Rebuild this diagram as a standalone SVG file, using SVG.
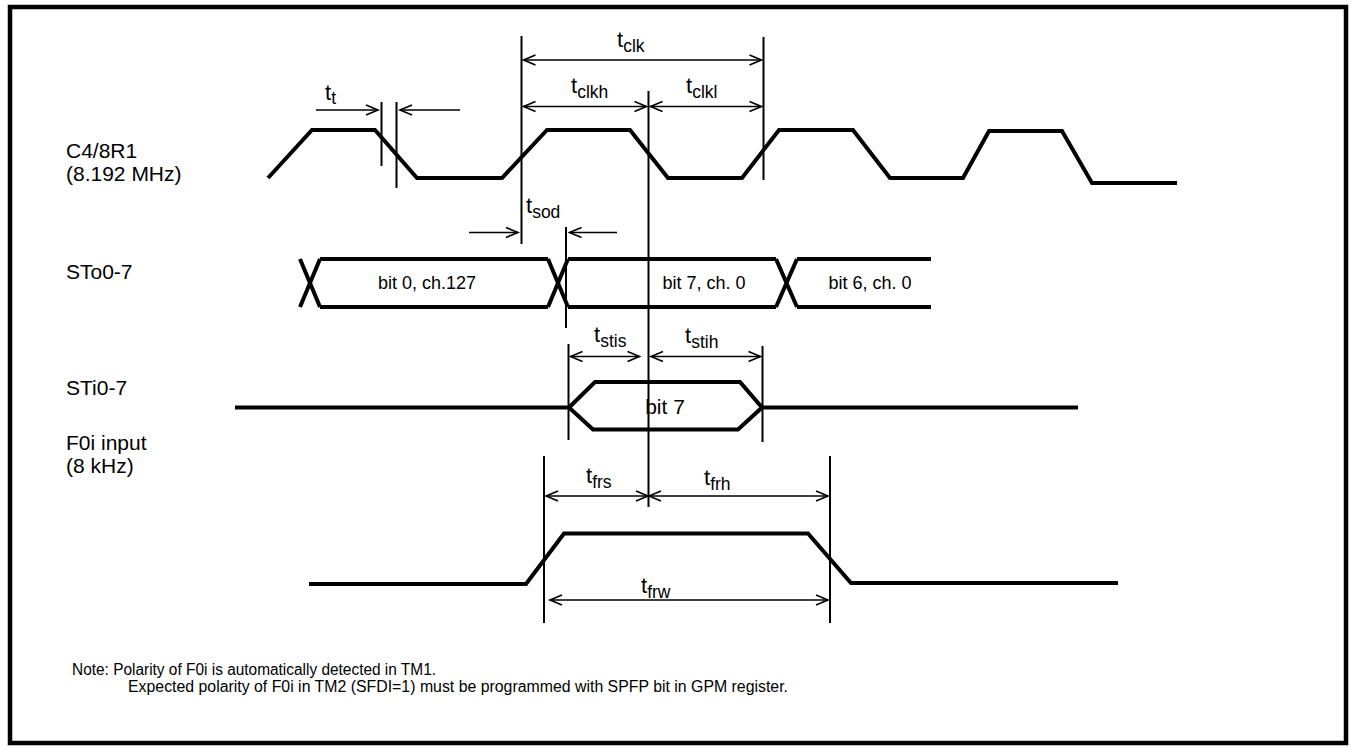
<svg xmlns="http://www.w3.org/2000/svg" width="1351" height="751" viewBox="0 0 1351 751">
<defs>
<marker id="ah" markerWidth="14" markerHeight="12" refX="12" refY="5" orient="auto-start-reverse" markerUnits="userSpaceOnUse" overflow="visible">
<path d="M0,0 L12,5 L0,10" fill="none" stroke="#000" stroke-width="1.6"/>
</marker>
</defs>
<style>
text{font-family:"Liberation Sans",Arial,sans-serif;fill:#000}
.lbl{font-size:21px}
.bus{font-size:18px}
.t{font-size:22px}
.sub{font-size:17.5px}
.note{font-size:15.6px}
.wave{fill:none;stroke:#000;stroke-width:4;stroke-linejoin:miter}
.arr{fill:none;stroke:#000;stroke-width:1.6;marker-end:url(#ah)}
.darr{fill:none;stroke:#000;stroke-width:1.6;marker-start:url(#ah);marker-end:url(#ah)}
.vl{fill:none;stroke:#000;stroke-width:2}
</style>
<rect x="10" y="7" width="1336" height="736" fill="#fff" stroke="#000" stroke-width="4.5"/>

<g id="clk">
<text class="lbl" x="66" y="158">C4/8R1</text>
<text class="lbl" x="66" y="181">(8.192 MHz)</text>
<path class="wave" d="M268,178 L312,130 L375,130 L417,178 L502,178 L547,130 L630,130 L668,178 L742,178 L779,130 L853,130 L890,178 L963,178 L989,131 L1062,131 L1092,183 L1177,183"/>
</g>

<g id="sto">
<text class="lbl" x="66" y="279">STo0-7</text>
<path class="wave" d="M300,259 L320,307 M300,307 L320,259 M320,259 L548,259 M320,307 L548,307 M548,259 L568,307 M548,307 L568,259 M568,259 L776,259 M568,307 L776,307 M776,259 L797,307 M776,307 L797,259 M797,259 L931,259 M797,307 L931,307"/>
<text class="bus" x="427" y="289" text-anchor="middle">bit 0, ch.127</text>
<text class="bus" x="704" y="289" text-anchor="middle">bit 7, ch. 0</text>
<text class="bus" x="870" y="289" text-anchor="middle">bit 6, ch. 0</text>
</g>

<g id="sti">
<text class="lbl" x="66" y="395">STi0-7</text>
<path class="wave" d="M235,407.5 L569,407.5 M569,407.5 L595,382 L740,382 L762,407.5 L738,429.5 L593,429.5 Z M762,407.5 L1078,407.5"/>
<text class="lbl" x="665" y="414" text-anchor="middle">bit 7</text>
</g>

<g id="f0i">
<text class="lbl" x="66" y="450">F0i input</text>
<text class="lbl" x="66" y="473">(8 kHz)</text>
<path class="wave" d="M309,584 L526,584 L564,533.5 L808,533.5 L851,583 L1118,583"/>
</g>

<g id="connectors">
<line class="vl" x1="381.5" y1="102" x2="381.5" y2="166"/>
<line class="vl" x1="396.5" y1="102" x2="396.5" y2="188"/>
<line class="arr" x1="316" y1="110" x2="378" y2="110"/>
<line class="arr" x1="460" y1="110" x2="400" y2="110"/>

<line class="vl" x1="521.5" y1="36" x2="521.5" y2="244"/>
<line class="vl" x1="763.5" y1="37" x2="763.5" y2="180"/>
<line class="vl" x1="648.5" y1="91" x2="648.5" y2="507"/>
<line class="darr" x1="523.5" y1="60" x2="761.5" y2="60"/>
<line class="darr" x1="523.5" y1="106.5" x2="646.5" y2="106.5"/>
<line class="darr" x1="650.5" y1="106.5" x2="761.5" y2="106.5"/>

<line class="arr" x1="469" y1="232.5" x2="518" y2="232.5"/>
<line class="vl" x1="566" y1="227" x2="566" y2="328"/>
<line class="arr" x1="617" y1="232.5" x2="569.5" y2="232.5"/>

<line class="vl" x1="568.5" y1="344" x2="568.5" y2="440"/>
<line class="vl" x1="762.5" y1="346" x2="762.5" y2="442"/>
<line class="darr" x1="570.5" y1="356.5" x2="639.5" y2="356.5"/>
<line class="darr" x1="651" y1="356.5" x2="760.5" y2="356.5"/>

<line class="vl" x1="544" y1="456" x2="544" y2="623"/>
<line class="vl" x1="830" y1="456" x2="830" y2="623"/>
<line class="darr" x1="546" y1="496" x2="648" y2="496"/>
<line class="darr" x1="649" y1="496" x2="828" y2="496"/>
<line class="darr" x1="550" y1="600" x2="828" y2="600"/>
</g>

<g id="labels">
<text x="325" y="100"><tspan class="t">t</tspan><tspan class="sub" dy="4">t</tspan></text>
<text x="617" y="47"><tspan class="t">t</tspan><tspan class="sub" dy="5">clk</tspan></text>
<text x="571" y="93"><tspan class="t">t</tspan><tspan class="sub" dy="5">clkh</tspan></text>
<text x="686" y="93"><tspan class="t">t</tspan><tspan class="sub" dy="5">clkl</tspan></text>
<text x="526" y="213"><tspan class="t">t</tspan><tspan class="sub" dy="5">sod</tspan></text>
<text x="594" y="342"><tspan class="t">t</tspan><tspan class="sub" dy="5">stis</tspan></text>
<text x="685" y="343"><tspan class="t">t</tspan><tspan class="sub" dy="5">stih</tspan></text>
<text x="586" y="483"><tspan class="t">t</tspan><tspan class="sub" dy="5">frs</tspan></text>
<text x="704" y="485"><tspan class="t">t</tspan><tspan class="sub" dy="5">frh</tspan></text>
<text x="641" y="593"><tspan class="t">t</tspan><tspan class="sub" dy="5">frw</tspan></text>
</g>

<g id="note">
<text class="note" x="72" y="675" textLength="364" lengthAdjust="spacingAndGlyphs">Note: Polarity of F0i is automatically detected in TM1.</text>
<text class="note" x="128" y="692" textLength="660" lengthAdjust="spacingAndGlyphs">Expected polarity of F0i in TM2 (SFDI=1) must be programmed with SPFP bit in GPM register.</text>
</g>
</svg>
